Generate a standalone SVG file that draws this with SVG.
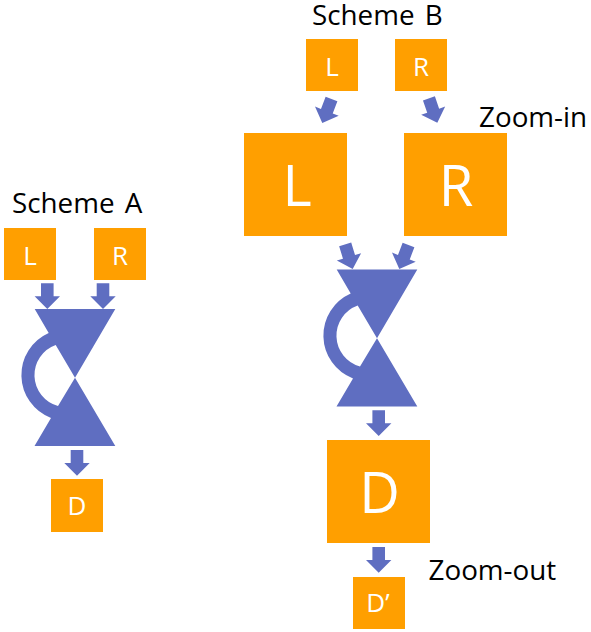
<svg xmlns="http://www.w3.org/2000/svg" xmlns:xlink="http://www.w3.org/1999/xlink" width="591" height="632" viewBox="0 0 591 632">
<style>
.box{fill:#FF9F00}
.blue{fill:#5F6EC1}
.lab{font-family:"Open Sans","Noto Sans",sans-serif;fill:#fff;text-anchor:middle}
.s{font-size:26px}
.b{font-size:56px}
.cap{font-family:"Open Sans","Noto Sans",sans-serif;font-size:27.8px;fill:#000;word-spacing:3px}
</style>
<defs>
<path id="arrow" class="blue" d="M0,0L-12.7,-12.7L-6.3,-12.7L-6.3,-25.7L6.3,-25.7L6.3,-12.7L12.7,-12.7Z"/>
<path id="bowtie" class="blue" d="M34.7,309L115.3,309L75,377.7L115.3,446L34.5,446L51,418A46,46 0 0 1 48.7,333ZM55.7,345A32,32 0 0 0 58,406L75,377.7Z" fill-rule="evenodd"/>
</defs>
<rect width="591" height="632" fill="#fff"/>
<g id="connectors">
<use href="#arrow" transform="translate(47.3,309)"/>
<use href="#arrow" transform="translate(103,309)"/>
<use href="#arrow" transform="translate(77,475.7)"/>
<use href="#arrow" transform="translate(322.3,123) rotate(21)"/>
<use href="#arrow" transform="translate(437.3,122.7) rotate(-19)"/>
<use href="#arrow" transform="translate(352.7,269) rotate(-17)"/>
<use href="#arrow" transform="translate(399.3,269) rotate(21)"/>
<use href="#arrow" transform="translate(378.7,436)"/>
<use href="#arrow" transform="translate(378.7,572.7)"/>
</g>
<g id="bowtie-a"><use href="#bowtie"/></g>
<g id="bowtie-b"><use href="#bowtie" transform="translate(302,-39.5)"/></g>
<g id="a-l"><rect class="box" x="4" y="228" width="52" height="52"/><text class="lab s" x="30" y="265">L</text></g>
<g id="a-r"><rect class="box" x="94" y="228" width="52" height="52"/><text class="lab s" x="120" y="265">R</text></g>
<g id="a-d"><rect class="box" x="51" y="479" width="52" height="53"/><text class="lab s" x="77" y="515">D</text></g>
<g id="b-l-small"><rect class="box" x="306" y="39" width="52" height="52"/><text class="lab s" x="332" y="76">L</text></g>
<g id="b-r-small"><rect class="box" x="395" y="39" width="52" height="52"/><text class="lab s" x="421" y="76">R</text></g>
<g id="b-l-large"><rect class="box" x="244" y="133" width="103" height="103"/><text class="lab b" x="297" y="205.7">L</text></g>
<g id="b-r-large"><rect class="box" x="404" y="133" width="103" height="103"/><text class="lab b" x="456" y="205.7">R</text></g>
<g id="b-d-large"><rect class="box" x="327" y="440" width="103" height="103"/><text class="lab b" x="379.5" y="512.7">D</text></g>
<g id="b-d-prime"><rect class="box" x="353" y="577" width="52" height="52"/><text class="lab s" x="378" y="612">D’</text></g>
<text class="cap" x="12" y="213">Scheme A</text>
<text class="cap" x="312" y="25">Scheme B</text>
<text class="cap" x="479" y="126.7">Zoom-in</text>
<text class="cap" x="428.5" y="580">Zoom-out</text>
</svg>
